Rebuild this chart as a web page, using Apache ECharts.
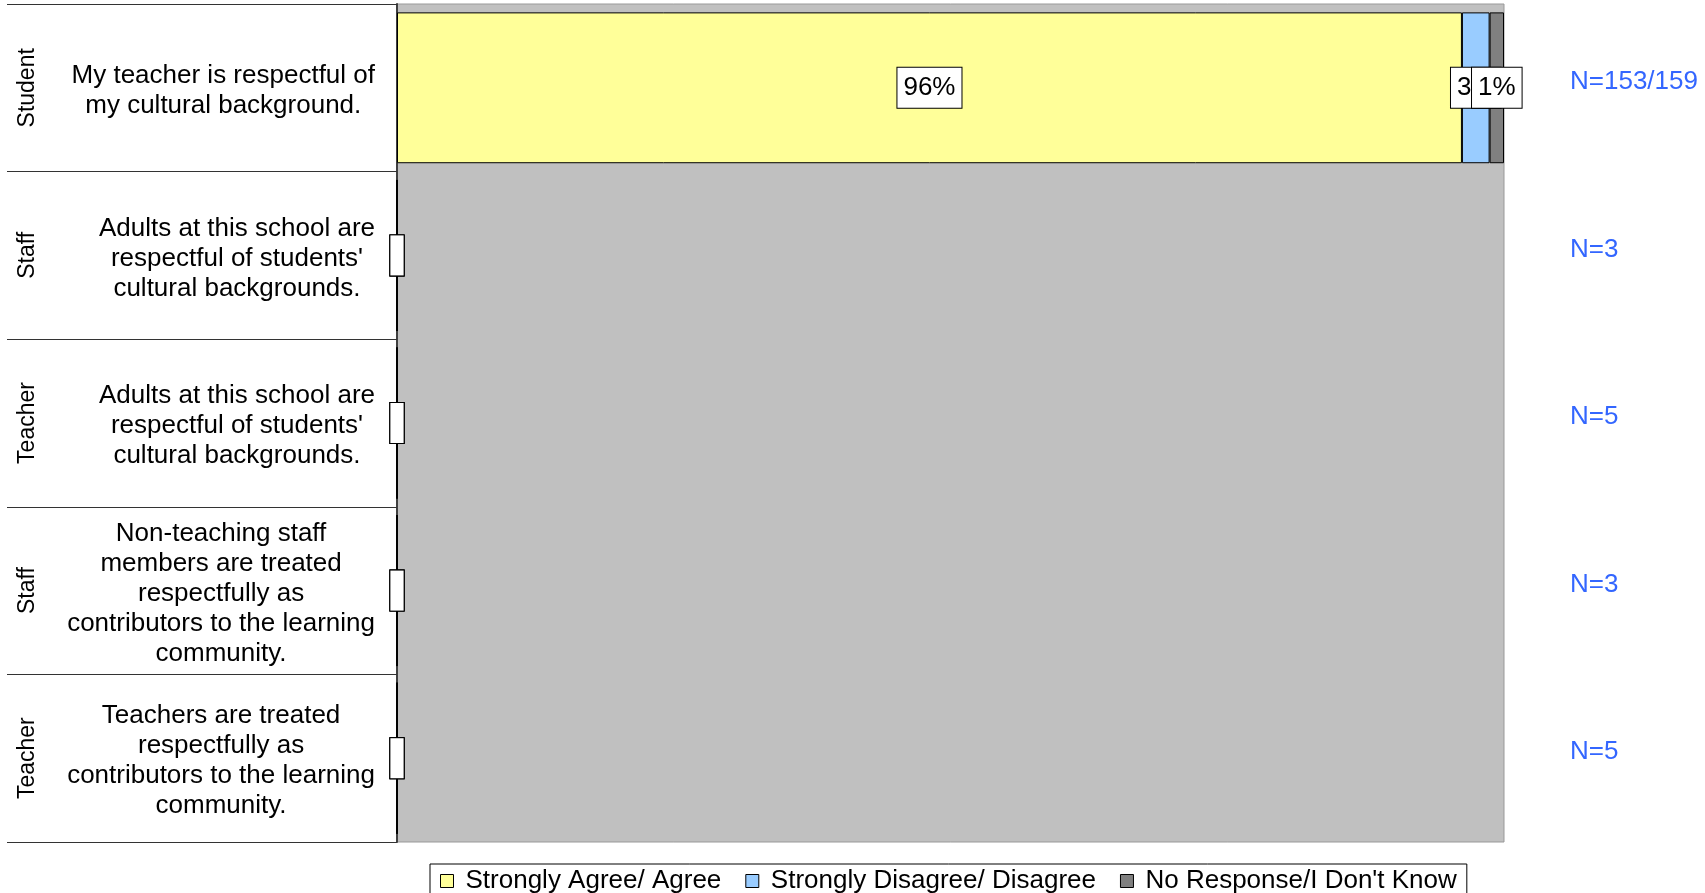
<!DOCTYPE html>
<html>
<head>
<meta charset="utf-8">
<script src="https://cdn.jsdelivr.net/npm/echarts@6/dist/echarts.min.js"></script>
<style>
  html, body { margin: 0; padding: 0; background: #fff; }
  #chart { width: 1705px; height: 893px; }
</style>
</head>
<body>
<div id="chart"></div>
<script>
// survey items, top to bottom
const questions = [
    'My teacher is respectful of\nmy cultural background.',
    'Adults at this school are\nrespectful of students\'\ncultural backgrounds.',
    'Adults at this school are\nrespectful of students\'\ncultural backgrounds.',
    'Non-teaching staff\nmembers are treated\nrespectfully as\ncontributors to the learning\ncommunity.',
    'Teachers are treated\nrespectfully as\ncontributors to the learning\ncommunity.'
];
const groups = ['Student', 'Staff', 'Teacher', 'Staff', 'Teacher'];
const nLabels = ['N=153/159', 'N=3', 'N=5', 'N=3', 'N=5'];

const seriesNames = ['Strongly Agree/ Agree', 'Strongly Disagree/ Disagree', "No Response/I Don't Know"];
const agree = [96.2, 0, 0, 0, 0];
const disagree = [2.5, 0, 0, 0, 0];
const noResponse = [1.3, 0, 0, 0, 0];
const colors = ['#FFFF99', '#99CCFF', '#808080'];

const font = '"Liberation Sans", Arial, sans-serif';
const chart = echarts.init(document.getElementById('chart'));

// zero bars still get an (empty) label box, just narrower
const makeData = (arr) => arr.map(v => v === 0 ? { value: v, label: { padding: [7, 3] } } : v);

const series = [agree, disagree, noResponse].map((arr, i) => ({
    name: seriesNames[i],
    type: 'bar',
    stack: 'total',
    barCategoryGap: '10%',
    itemStyle: { color: colors[i], borderColor: '#000', borderWidth: 1 },
    label: {
        show: true,
        position: 'inside',
        formatter: p => p.value ? Math.round(p.value) + '%' : ' ',
        backgroundColor: '#fff',
        borderColor: '#000',
        borderWidth: 1,
        padding: [7, 6],
        fontSize: 26,
        color: '#000',
        fontFamily: font
    },
    emphasis: { disabled: true },
    data: makeData(arr)
}));

const options = {
    animation: false,
    textStyle: { fontFamily: font },
    grid: {
        left: 397, right: 201, top: 4, bottom: 51,
        show: true,
        backgroundColor: '#C0C0C0',
        borderColor: '#999',
        borderWidth: 1
    },
    legend: {
        data: seriesNames,
        top: 864,
        left: 430,
        itemGap: 24,
        itemWidth: 13,
        itemHeight: 13,
        padding: [4, 10, 8, 10],
        borderColor: '#000',
        borderWidth: 1,
        backgroundColor: '#fff',
        icon: 'rect',
        itemStyle: { borderColor: '#000', borderWidth: 1 },
        textStyle: { fontSize: 26, color: '#000', fontFamily: font, padding: [0, 0, 0, 7] }
    },
    xAxis: { type: 'value', min: 0, max: 100, show: false },
    yAxis: [
        {
            type: 'category',
            data: questions,
            inverse: true,
            axisLine: { show: true, lineStyle: { color: '#404040', width: 2 } },
            axisTick: { show: true, interval: 0, length: 390, lineStyle: { color: '#333' } },
            axisLabel: {
                interval: 0,
                margin: 22,
                align: 'right',
                padding: [6, 0, 0, 0],
                formatter: v => v.split('\n').map(l => '{q|' + l + '}').join('\n'),
                rich: { q: { align: 'center', fontSize: 26, lineHeight: 30, color: '#000', fontFamily: font } }
            }
        },
        {
            type: 'category',
            data: groups,
            inverse: true,
            position: 'left',
            offset: 350,
            axisLine: { show: false },
            axisTick: { show: false },
            axisLabel: {
                interval: 0, rotate: 90, margin: 8, fontSize: 23, color: '#000',
                formatter: (v, i) => groups[i]
            }
        },
        {
            type: 'category',
            data: nLabels,
            inverse: true,
            position: 'right',
            axisLine: { show: false },
            axisTick: { show: false },
            axisLabel: {
                interval: 0, margin: 66,
                formatter: (v, i) => '{n|' + nLabels[i] + '}',
                rich: { n: { fontSize: 26, color: '#3366FF', fontFamily: font, padding: [0, 0, 12, 0] } }
            }
        }
    ],
    series: series
};
chart.setOption(options);
</script>
</body>
</html>
